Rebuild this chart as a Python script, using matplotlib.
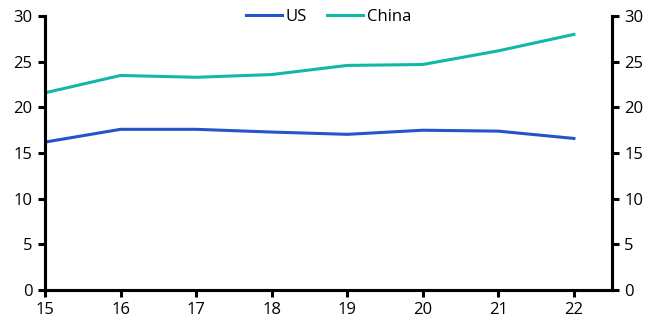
import matplotlib.pyplot as plt

years = [15, 16, 17, 18, 19, 20, 21, 22]
us = [16.2, 17.6, 17.6, 17.3, 17.05, 17.5, 17.4, 16.6]
china = [21.6, 23.5, 23.3, 23.6, 24.6, 24.7, 26.2, 28.0]
yticks = [0, 5, 10, 15, 20, 25, 30]

plt.rcParams['font.family'] = ['Open Sans', 'DejaVu Sans']
plt.rcParams['font.size'] = 12

fig = plt.figure(figsize=(6.62, 3.36), dpi=100)
ax = fig.add_axes([0.068, 0.137, 0.856, 0.815])

ax.plot(years, us, color='#2155c9', lw=2.2, label='US')
ax.plot(years, china, color='#12b8a6', lw=2.2, label='China')

ax.set_xlim(15, 22.5)
ax.set_ylim(0, 30)
ax.set_xticks(years)
ax.set_yticks(yticks)

ax2 = ax.twinx()
ax2.set_ylim(0, 30)
ax2.set_yticks(yticks)

for a in (ax, ax2):
    a.spines['top'].set_visible(False)
    for s in ('left', 'right', 'bottom'):
        a.spines[s].set_linewidth(2.2)
    a.tick_params(width=2.2, length=5, direction='out', pad=4)

ax.legend(loc='upper center', bbox_to_anchor=(0.5, 1.08), ncol=2, frameon=False,
          handlelength=2.2, handletextpad=0.2, columnspacing=1.2, fontsize=12)

fig.savefig('out.png', dpi=100)
